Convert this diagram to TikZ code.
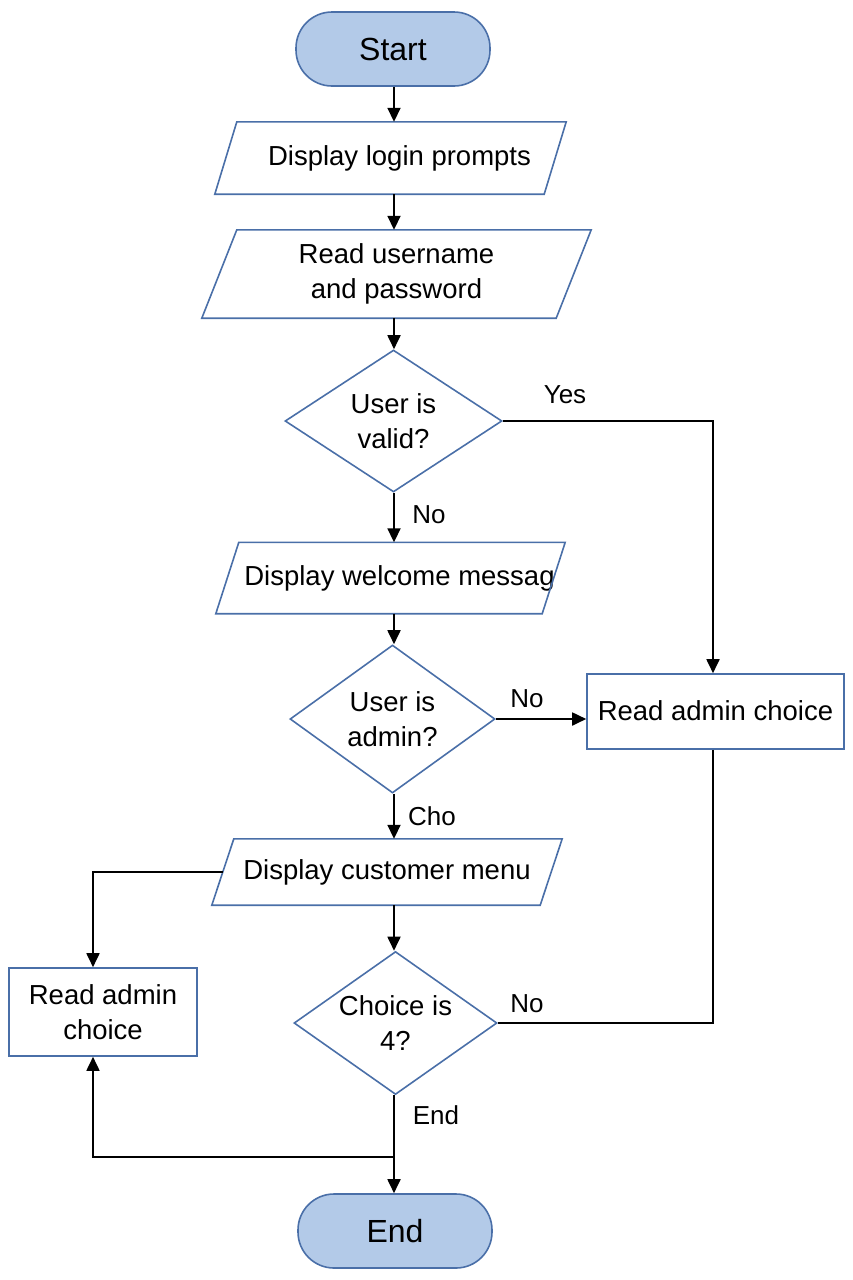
\documentclass[tikz,border=0pt]{standalone}
\usepackage{fontspec}
\setmainfont{Liberation Sans}
\usetikzlibrary{shapes.geometric,arrows.meta}
\definecolor{bord}{HTML}{4A6FA8}
\definecolor{termfill}{HTML}{B3CAE8}
\newcommand\drawpara[2]{\draw[paraline] ([xshift=#2*0.5pt]#1.north west) -- ([xshift=#2*0.5pt]#1.north east) -- ([xshift=-#2*0.5pt]#1.south east) -- ([xshift=-#2*0.5pt]#1.south west) -- cycle;}
\begin{document}
\begin{tikzpicture}[x=1pt,y=-1pt,
  every node/.style={font=\fontsize{27.5}{35}\selectfont, text=black},
  term/.style={draw=bord, fill=termfill, line width=1.6pt, rounded corners=36pt, minimum width=194pt, minimum height=74pt, inner sep=0pt, font=\fontsize{32}{35}\selectfont},
  io/.style={rectangle, inner sep=0pt, align=center},
  paraline/.style={draw=bord, line width=1.6pt, line join=miter},
  dec/.style={diamond, draw=bord, line width=1.6pt, inner sep=0pt},
  proc/.style={rectangle, draw=bord, line width=1.6pt, inner sep=0pt, align=center},
  conn/.style={draw=black, line width=1.8pt, -{Triangle[length=14pt,width=13pt]}},
  plainline/.style={draw=black, line width=1.8pt},
  lab/.style={font=\fontsize{26}{30}\selectfont}
]
\useasboundingbox (0,0) rectangle (853,1280);
\coordinate (mx) at (394,0);
\coordinate (jy) at (0,1157);

\node[term] (start) at (393,49) {Start};
\node[io, minimum width=329pt, minimum height=72pt] (login) at (390.5,158) {\hspace*{18pt}Display login prompts};
\drawpara{login}{22}
\node[io, minimum width=354pt, minimum height=88pt] (read) at (396.5,274) {Read username\\and password};
\drawpara{read}{35}
\node[dec, minimum width=217pt, minimum height=142pt, label={[align=center]center:User is\\valid?}] (valid) at (393.5,421) {};
\node[io, minimum width=326pt, minimum height=71pt] (welcome) at (390.5,578) {\makebox[250pt]{\hspace*{18pt}Display welcome messag}};
\drawpara{welcome}{23}
\node[dec, minimum width=205pt, minimum height=148pt, label={[align=center]center:User is\\admin?}] (admin) at (392.5,719) {};
\node[proc, minimum width=257pt, minimum height=75pt] (adminbox) at (715.5,711.5) {\raisebox{2pt}{Read admin choice}};
\node[io, minimum width=328pt, minimum height=66pt] (customer) at (387,872) {Display customer menu};
\drawpara{customer}{22}
\node[dec, minimum width=203pt, minimum height=143pt, label={[align=center]center:Choice is\\4?}] (choice) at (395.5,1023) {};
\node[proc, minimum width=188pt, minimum height=88pt] (leftbox) at (103,1012) {Read admin\\choice};
\node[term] (end) at (395,1231) {End};

\coordinate (j) at (choice.south |- jy);

\draw[conn] (start.south -| mx) -- (login.north -| mx);
\draw[conn] (login.south -| mx) -- (read.north -| mx);
\draw[conn] (read.south -| mx) -- (valid.north -| mx);
\draw[conn] (valid.south -| mx) -- (welcome.north -| mx);
\draw[conn] (valid.east) -| ([xshift=-2.5pt]adminbox.north);
\draw[conn] (welcome.south -| mx) -- (admin.north -| mx);
\draw[conn] (admin.east) -- (admin.east -| adminbox.west);
\draw[conn] (admin.south -| mx) -- (customer.north -| mx);
\draw[conn] (customer.west) -| ([xshift=-10pt]leftbox.north);
\draw[conn] (customer.south -| mx) -- (choice.north -| mx);
\draw[plainline] ([xshift=-2.5pt]adminbox.south) |- (choice.east);
\draw[conn] (choice.south -| mx) -- (end.north -| mx);
\draw[conn] (j -| mx) -| ([xshift=-10pt]leftbox.south);

\node[lab] (lyes) at (565,395) {Yes};
\node[lab] (lno1) at (429,515) {No};
\node[lab] (lno2) at (527,699) {No};
\node[lab] (lcho) at (432,816) {Cho};
\node[lab] (lno3) at (527,1004) {No};
\node[lab] (lend) at (436,1115) {End};
\end{tikzpicture}
\end{document}
